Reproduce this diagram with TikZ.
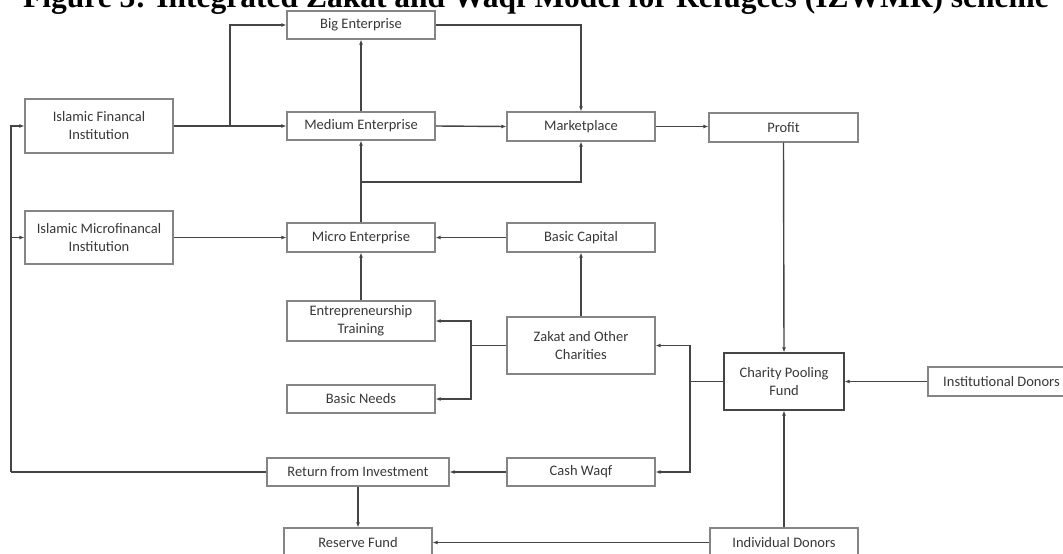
\documentclass[tikz,border=0pt]{standalone}
\usepackage{fontspec}
\setmainfont{Carlito}
\newfontfamily\titlefont{Liberation Serif}
\usetikzlibrary{arrows.meta}
\definecolor{boxline}{HTML}{858585}
\definecolor{conline}{HTML}{454545}
\definecolor{txt}{HTML}{383838}
\begin{document}
\begin{tikzpicture}[x=1pt,y=-1pt,
 box/.style={draw=boxline,line width=1.2pt,minimum width=148pt,minimum height=28pt,inner sep=0pt,align=center,text=txt,font=\fontsize{14.5}{18}\selectfont},
 conn/.style={draw=conline,line width=1.4pt,-{Latex[length=5pt,width=4pt]}},
 plain/.style={draw=conline,line width=1.4pt}]
\useasboundingbox (0,0) rectangle (1063,554);
\clip (0,0) rectangle (1063,554);
\node[anchor=base west,inner sep=0pt,font=\titlefont\bfseries\fontsize{31.5}{36}\selectfont] (title) at (23,8) {Figure 3: Integrated Zakat and Waqf Model for Refugees (IZWMR) scheme};

\node[box] (be) at (361,25) {Big Enterprise};
\node[box] (me) at (361,126) {Medium Enterprise};
\node[box,minimum height=29pt] (mp) at (581,126.5) {Marketplace};
\node[box,minimum width=149pt,minimum height=29pt] (pr) at (783.5,127.5) {Profit};
\node[box,minimum height=54pt] (ifi) at (99,126) {Islamic Financal\\Institution};
\node[box,minimum height=53pt] (imi) at (99,237.5) {Islamic Microfinancal\\Institution};
\node[box,minimum height=29pt] (mi) at (361,237.5) {Micro Enterprise};
\node[box,minimum height=29pt] (bc) at (581,237.5) {Basic Capital};
\node[box,minimum height=40pt] (et) at (361,321) {Entrepreneurship\\Training};
\node[box,minimum height=57pt] (zk) at (581,345.5) {Zakat and Other\\Charities};
\node[box] (bn) at (361,399) {Basic Needs};
\node[box,draw=conline,minimum width=120pt,minimum height=57pt] (cp) at (784,381.5) {Charity Pooling\\Fund};
\node[box,minimum width=147pt,minimum height=29pt] (id) at (1001.5,381.5) {Institutional Donors};
\node[box] (cw) at (581,472) {Cash Waqf};
\node[box,minimum width=182pt] (ri) at (358,472) {Return from Investment};
\node[box,minimum height=29pt] (rf) at (358,542.5) {Reserve Fund};
\node[box,minimum height=29pt] (ind) at (784,542.5) {Individual Donors};

\coordinate (j1) at (230,126);
\coordinate (j2) at (361,182);
\coordinate (j3) at (471,345.5);
\coordinate (j4) at (690,381.5);
\coordinate (j5) at (11,472);
\coordinate (j6) at (11,237.5);

\draw[conn] (ifi.east) -- (me.west);
\draw[conn] (j1) |- (be.west);
\draw[conn] (me.north) -- (be.south);
\draw[conn] (be.east) -| (mp.north);
\draw[conn] (me.east) -- (mp.west);
\draw[conn] (mp.east) -- (mp.east -| pr.west);
\draw[conn] (mi.north) -- (me.south);
\draw[conn] (j2) -| (mp.south);
\draw[conn] (imi.east) -- (mi.west);
\draw[conn] (bc.west) -- (mi.east);
\draw[conn] (zk.north) -- (bc.south);
\draw[conn] (et.north) -- (mi.south);
\draw[plain] (zk.west) -- (j3);
\draw[conn] (j3) |- (et.east);
\draw[conn] (j3) |- (bn.east);
\draw[conn] (pr.south) -- (cp.north);
\draw[conn] (id.west) -- (cp.east);
\draw[plain] (cp.west) -- (j4);
\draw[conn] (j4) |- (zk.east);
\draw[conn] (j4) |- (cw.east);
\draw[conn] (cw.west) -- (ri.east);
\draw[plain] (ri.west) -- (j5);
\draw[conn] (j5) |- (ifi.west);
\draw[conn] (j6) -- (imi.west);
\draw[conn] (ri.south) -- (rf.north);
\draw[conn] (ind.north) -- (cp.south);
\draw[conn] (ind.west) -- (rf.east);
\end{tikzpicture}
\end{document}
